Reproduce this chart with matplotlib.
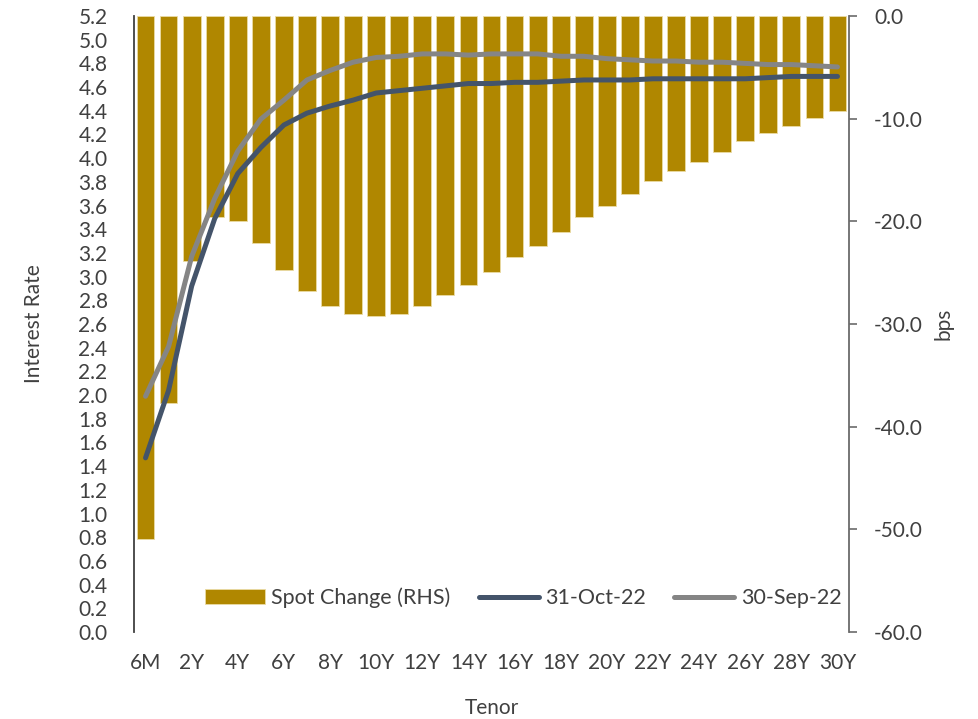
import matplotlib
matplotlib.use("Agg")
import matplotlib.pyplot as plt
from matplotlib.ticker import FormatStrFormatter

# tenors and values
tenors = ["6M"] + [f"{i}Y" for i in range(1, 31)]
spot_change = [-50.9, -37.7, -23.9, -19.6, -20.0, -22.1, -24.7, -26.8, -28.2, -29.0,
               -29.2, -29.0, -28.2, -27.2, -26.2, -24.9, -23.5, -22.4, -21.0, -19.6,
               -18.5, -17.3, -16.1, -15.1, -14.2, -13.2, -12.2, -11.4, -10.7, -9.9, -9.3]
rate_oct = [1.47, 2.04, 2.92, 3.49, 3.87, 4.09, 4.28, 4.38, 4.44, 4.49,
            4.55, 4.57, 4.59, 4.61, 4.63, 4.63, 4.64, 4.64, 4.65, 4.66,
            4.66, 4.66, 4.67, 4.67, 4.67, 4.67, 4.67, 4.68, 4.69, 4.69, 4.69]
rate_sep = [1.99, 2.41, 3.17, 3.66, 4.06, 4.33, 4.49, 4.66, 4.74, 4.81,
            4.85, 4.86, 4.88, 4.88, 4.87, 4.88, 4.88, 4.88, 4.86, 4.86,
            4.84, 4.83, 4.82, 4.82, 4.81, 4.81, 4.80, 4.79, 4.79, 4.78, 4.77]

TXT = "#404040"
GOLD = "#B08700"
FS = 15
plt.rcParams["font.family"] = ["Lato", "DejaVu Sans"]
plt.rcParams["font.size"] = FS

fig = plt.figure(figsize=(9.79, 7.19), dpi=100)
ax = fig.add_axes([134 / 979, 1 - 632 / 719, 715 / 979, 616 / 719])
ax2 = ax.twinx()  # lines go on top of the bars
x = list(range(len(tenors)))

# bars on the right-hand (bps) axis
ax.bar(x, spot_change, width=0.77, color=GOLD, edgecolor="#EBDCA5", linewidth=0.6,
       label="Spot Change (RHS)")
ax.set_ylim(-60, 0)
ax.set_xlim(-0.5, len(tenors) - 0.5)
ax.yaxis.set_visible(False)
for s in ["top", "left", "bottom", "right"]:
    ax.spines[s].set_visible(False)

ax.set_xticks(x[::2])
ax.set_xticklabels(tenors[::2])
ax.tick_params(axis="x", length=0, pad=15, labelcolor=TXT, labelsize=FS)
ax.set_xlabel("Tenor", color=TXT, fontsize=FS, labelpad=18)

# ax2 carries the lines and the left rate scale
ax2.plot(x, rate_oct, color="#44546A", linewidth=3.6, solid_capstyle="round", label="31-Oct-22")
ax2.plot(x, rate_sep, color="#858585", linewidth=3.6, solid_capstyle="round", label="30-Sep-22")
ax2.set_ylim(0, 5.2)
ax2.yaxis.tick_left()
ax2.yaxis.set_label_position("left")
ax2.set_yticks([i / 5 for i in range(27)])
ax2.yaxis.set_major_formatter(FormatStrFormatter("%.1f"))
ax2.tick_params(axis="y", length=0, pad=19, labelcolor=TXT, labelsize=FS)
ax2.set_ylabel("Interest Rate", color=TXT, fontsize=FS, labelpad=25)
for s in ["top", "right", "bottom"]:
    ax2.spines[s].set_visible(False)
ax2.spines["left"].set_color("#404040")
ax2.spines["left"].set_linewidth(1.3)

# right-hand bps scale
ax3 = ax.twinx()
ax3.set_ylim(ax.get_ylim())
ax3.set_yticks(range(-60, 1, 10))
ax3.yaxis.set_major_formatter(FormatStrFormatter("%.1f"))
ax3.tick_params(axis="y", direction="out", length=6, width=1.2, color="#6b6b6b",
                pad=12, labelcolor=TXT, labelsize=FS)
ax3.set_ylabel("bps", color=TXT, fontsize=FS, labelpad=8)
for s in ["top", "left", "bottom"]:
    ax3.spines[s].set_visible(False)
ax3.spines["right"].set_color("#6b6b6b")
ax3.spines["right"].set_linewidth(1.3)

h1, l1 = ax.get_legend_handles_labels()
h2, l2 = ax2.get_legend_handles_labels()
ax2.legend(h1 + h2, l1 + l2, loc="center", bbox_to_anchor=(0.544, 0.055), ncol=3,
           frameon=False, fontsize=15.5, handlelength=2.8, handletextpad=0.3,
           columnspacing=1.3, labelcolor=TXT)

fig.savefig("out.png", dpi=100)
